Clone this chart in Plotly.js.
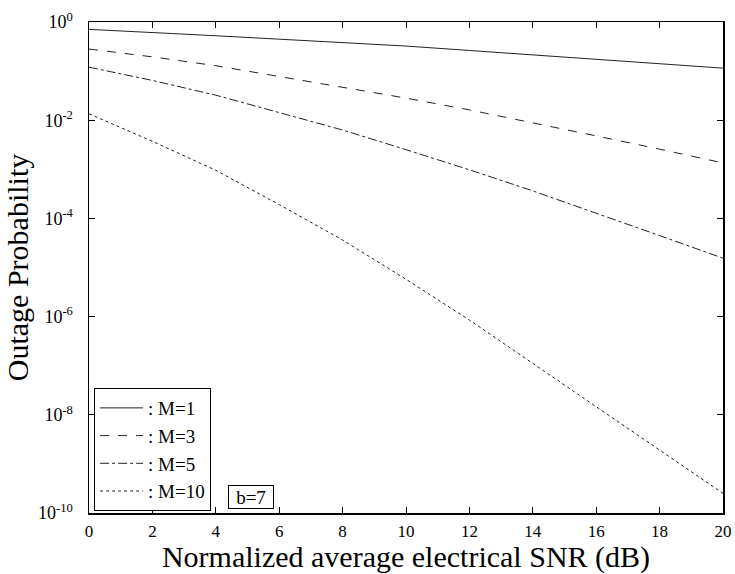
<!DOCTYPE html>
<html>
<head>
<meta charset="utf-8">
<script src="https://cdn.plot.ly/plotly-3.0.1.min.js"></script>
<style>html,body{margin:0;padding:0;background:#fff;}</style>
</head>
<body>
<div id="chart" style="width:735px;height:574px;"></div>
<script>
// SNR values (dB)
const snr = [0, 2, 4, 6, 8, 10, 12, 14, 16, 18, 20];
// log10 of outage probability
const logM1  = [-0.15, -0.21, -0.28, -0.35, -0.42, -0.49, -0.58, -0.67, -0.76, -0.85, -0.94];
const logM3  = [-0.55, -0.71, -0.89, -1.11, -1.33, -1.55, -1.79, -2.05, -2.32, -2.59, -2.87];
const logM5  = [-0.92, -1.19, -1.49, -1.84, -2.20, -2.60, -3.01, -3.44, -3.89, -4.35, -4.81];
const logM10 = [-1.87, -2.43, -3.02, -3.72, -4.44, -5.24, -6.07, -6.95, -7.84, -8.72, -9.60];
const seriesNames = [': M=1', ': M=3', ': M=5', ': M=10'];
const xTicks = [0, 2, 4, 6, 8, 10, 12, 14, 16, 18, 20];
const yTickExps = [0, -2, -4, -6, -8, -10];
const yTickVals = yTickExps.map(e => Math.pow(10, e));
const yTickText = yTickExps.map(e => '10<sup>' + e + '</sup>');

const toVal = arr => arr.map(v => Math.pow(10, v));
const dashes = ['solid', 'dash', 'dashdot', 'dot'];
const series = [logM1, logM3, logM5, logM10];
const traces = series.map((s, i) => ({
  x: snr, y: toVal(s), type: 'scatter', mode: 'lines', name: seriesNames[i],
  line: {color: '#222', width: 1, dash: dashes[i]}
}));

const font = '"Liberation Serif", "Times New Roman", serif';
const layout = {
  width: 735, height: 574,
  margin: {l: 89, r: 12, t: 22, b: 61},
  paper_bgcolor: '#fff', plot_bgcolor: '#fff',
  font: {family: font, color: '#000', size: 17},
  showlegend: true,
  legend: {
    x: 0.008, y: 0.004, xanchor: 'left', yanchor: 'bottom',
    bgcolor: '#fff', bordercolor: '#000', borderwidth: 1,
    font: {family: font, size: 19, color: '#000'},
    tracegroupgap: 0, itemwidth: 43
  },
  xaxis: {
    range: [0, 20], tickvals: xTicks, ticktext: xTicks.map(String),
    ticks: 'inside', ticklen: 6, tickcolor: '#000', tickwidth: 1,
    showline: true, linecolor: '#000', linewidth: 1.5, mirror: 'ticks',
    showgrid: false, zeroline: false, ticklabelstandoff: 2,
    tickfont: {family: font, size: 17},
    title: {text: 'Normalized average electrical SNR (dB)', font: {family: font, size: 30}, standoff: 3},
    automargin: false
  },
  yaxis: {
    type: 'log', range: [-10, 0], tickvals: yTickVals, ticktext: yTickText,
    ticks: 'inside', ticklen: 6, tickcolor: '#000', tickwidth: 1,
    showline: true, linecolor: '#000', linewidth: 1.5, mirror: 'ticks',
    showgrid: false, zeroline: false, ticklabelstandoff: 11,
    tickfont: {family: font, size: 18},
    title: {text: 'Outage Probability', font: {family: font, size: 30}, standoff: 0},
    automargin: false
  },
  annotations: [{
    text: 'b=7', x: 4.39, y: -9.92, xref: 'x', yref: 'y',
    xanchor: 'left', yanchor: 'bottom', showarrow: false,
    width: 44, height: 22, borderpad: 0,
    font: {family: font, size: 19, color: '#000'},
    bordercolor: '#000', borderwidth: 1, bgcolor: '#fff'
  }]
};

Plotly.newPlot('chart', traces, layout, {displayModeBar: false, staticPlot: true});
</script>
</body>
</html>
